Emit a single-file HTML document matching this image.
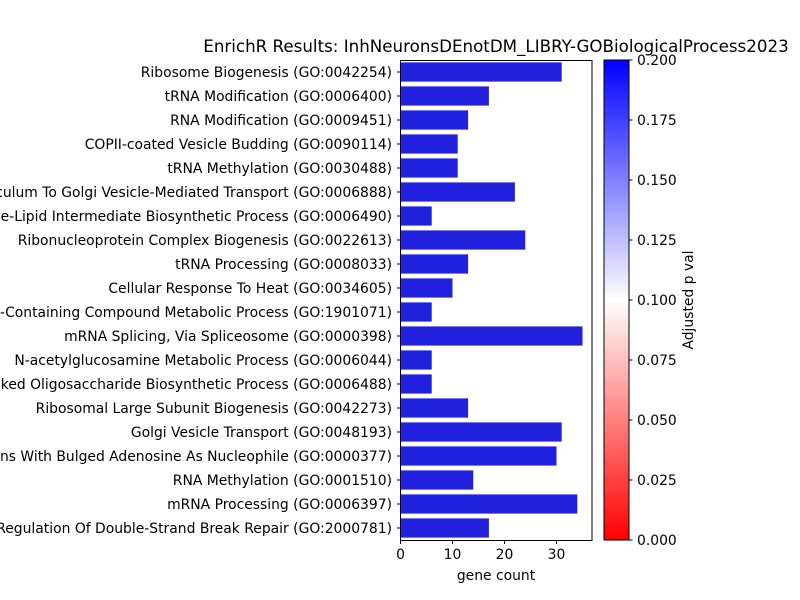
<!DOCTYPE html>
<html><head><meta charset="utf-8"><style>
body{margin:0;background:#fff;}
svg{display:block;font-family:"DejaVu Sans","Liberation Sans",sans-serif;}
</style></head><body>
<svg id="chart" width="800" height="600">
<defs><linearGradient id="bwr" x1="0" y1="1" x2="0" y2="0">
<stop offset="0" stop-color="#ff0000"/><stop offset="0.5" stop-color="#ffffff"/><stop offset="1" stop-color="#0000ff"/>
</linearGradient></defs>
<text x="496" y="52" font-size="16.7" text-anchor="middle">EnrichR Results: InhNeuronsDEnotDM_LIBRY-GOBiologicalProcess2023</text>
<g id="bars"></g><g id="ylabels"></g><g id="xticks"></g>
<rect x="400.5" y="60.5" width="191.5" height="480" fill="none" stroke="#000" stroke-width="1"/>
<text x="496" y="580" font-size="13.9" text-anchor="middle">gene count</text>
<rect x="604" y="60" width="25" height="480" fill="url(#bwr)" stroke="#000" stroke-width="1"/>
<g id="cticks"></g>
<text transform="translate(693,300) rotate(-90)" font-size="13.9" text-anchor="middle">Adjusted p val</text>
</svg>
<script>
const categories=["Ribosome Biogenesis (GO:0042254)","tRNA Modification (GO:0006400)","RNA Modification (GO:0009451)","COPII-coated Vesicle Budding (GO:0090114)","tRNA Methylation (GO:0030488)","Endoplasmic Reticulum To Golgi Vesicle-Mediated Transport (GO:0006888)","Oligosaccharide-Lipid Intermediate Biosynthetic Process (GO:0006490)","Ribonucleoprotein Complex Biogenesis (GO:0022613)","tRNA Processing (GO:0008033)","Cellular Response To Heat (GO:0034605)","Glucosamine-Containing Compound Metabolic Process (GO:1901071)","mRNA Splicing, Via Spliceosome (GO:0000398)","N-acetylglucosamine Metabolic Process (GO:0006044)","Dolichol-Linked Oligosaccharide Biosynthetic Process (GO:0006488)","Ribosomal Large Subunit Biogenesis (GO:0042273)","Golgi Vesicle Transport (GO:0048193)","RNA Splicing, Via Transesterification Reactions With Bulged Adenosine As Nucleophile (GO:0000377)","RNA Methylation (GO:0001510)","mRNA Processing (GO:0006397)","Positive Regulation Of Double-Strand Break Repair (GO:2000781)"];
const counts=[31,17,13,11,11,22,6,24,13,10,6,35,6,6,13,31,30,14,34,17];
const xTicks=[0,10,20,30];
const cTicks=[0,0.025,0.05,0.075,0.1,0.125,0.15,0.175,0.2];
const NS="http://www.w3.org/2000/svg";
const x0=400.5,xs=5.2,plotTop=60,slot=24;
const xp=v=>x0+v*xs;
const cy=v=>540-v/0.2*480;
function mk(t,a,p){const e=document.createElementNS(NS,t);for(const k in a)e.setAttribute(k,a[k]);p.appendChild(e);return e;}
const bars=document.getElementById('bars'),yl=document.getElementById('ylabels'),xt=document.getElementById('xticks'),ct=document.getElementById('cticks');
categories.forEach((c,i)=>{
  const yc=plotTop+slot*i+slot/2;
  const r=mk('rect',{x:x0,y:yc-9.6,width:counts[i]*xs,height:19.2,fill:'#2020dd'},bars);
  
  
  const tk=mk('line',{x1:x0-3.5,x2:x0,y1:yc,y2:yc,stroke:'#000'},yl);
  
  
  const t=mk('text',{x:392,y:yc+5,'font-size':13.9,'text-anchor':'end'},yl);
  t.textContent=c;
  
  
});
xTicks.forEach(v=>{
  const l=mk('line',{x1:xp(v),x2:xp(v),y1:540.5,y2:544,stroke:'#000'},xt);
  
  
  const t=mk('text',{x:xp(v),y:559,'font-size':13.9,'text-anchor':'middle'},xt);
  t.textContent=v;
  
  
});
cTicks.forEach(v=>{
  const l=mk('line',{x1:629,x2:632.5,y1:cy(v),y2:cy(v),stroke:'#000'},ct);
  
  
  const t=mk('text',{x:637,y:cy(v)+5,'font-size':13.9},ct);
  t.textContent=v.toFixed(3);
  
  
});
</script>
</body></html>
